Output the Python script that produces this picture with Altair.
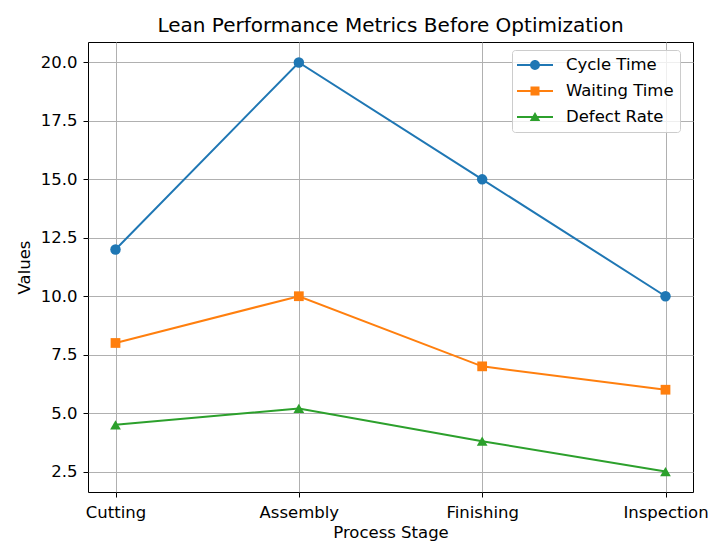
import altair as alt
import pandas as pd

stages = ["Cutting", "Assembly", "Finishing", "Inspection"]
series = ["Cycle Time", "Waiting Time", "Defect Rate"]
cycle_time = [12, 20, 15, 10]
waiting_time = [8, 10, 7, 6]
defect_rate = [4.5, 5.2, 3.8, 2.5]
y_ticks = [2.5, 5.0, 7.5, 10.0, 12.5, 15.0, 17.5, 20.0]

colors = ["#1f77b4", "#ff7f0e", "#2ca02c"]
shapes = ["circle", "square", "triangle-up"]
marker_sizes = [110, 95, 115]
legend_paths = [
    "M-2,-0.11H2V0.11H-2Z M-0.55,0A0.55,0.55 0 1 1 0.55,0A0.55,0.55 0 1 1 -0.55,0Z",
    "M-2,-0.11H2V0.11H-2Z M-0.5,-0.5H0.5V0.5H-0.5Z",
    "M-2,-0.11H2V0.11H-2Z M0,-0.55L0.58,0.45H-0.58Z",
]

rows = []
for name, vals in zip(series, [cycle_time, waiting_time, defect_rate]):
    for s, v in zip(stages, vals):
        rows.append({"stage": s, "value": v, "series": name})
df = pd.DataFrame(rows)

FONT = "DejaVu Sans"
FS = 16.5

x = alt.X(
    "stage:N",
    sort=stages,
    scale=alt.Scale(type="point", padding=0.15),
    axis=alt.Axis(
        title="Process Stage",
        labelAngle=0,
        grid=True,
        gridColor="#b0b0b0",
        gridWidth=1,
        domain=False,
        tickColor="black",
        tickSize=5,
        labelPadding=7,
        titlePadding=4,
    ),
)
y = alt.Y(
    "value:Q",
    scale=alt.Scale(domain=[1.625, 20.875], nice=False, zero=False),
    axis=alt.Axis(
        title="Values",
        values=y_ticks,
        format=".1f",
        grid=True,
        gridColor="#b0b0b0",
        gridWidth=1,
        domain=False,
        tickColor="black",
        tickSize=5,
        labelPadding=6,
        titlePadding=8,
    ),
)

leg = alt.Legend(
    title=None,
    orient="none",
    legendX=424,
    legendY=8,
    labelFontSize=FS,
    labelFont=FONT,
    labelColor="black",
    symbolSize=324,
    symbolStrokeWidth=0,
    symbolOpacity=1,
    symbolOffset=8,
    rowPadding=8,
    labelOffset=22,
    padding=6,
    fillColor="rgba(255,255,255,0.8)",
    strokeColor="#cccccc",
    cornerRadius=3,
    offset=0,
)

layers = []
for name, col in zip(series, colors):
    layers.append(
        alt.Chart(df)
        .transform_filter(alt.datum.series == name)
        .mark_line(strokeWidth=2, color=col)
        .encode(x=x, y=y)
    )
for name, col, shp, sz in zip(series, colors, shapes, marker_sizes):
    layers.append(
        alt.Chart(df)
        .transform_filter(alt.datum.series == name)
        .mark_point(filled=True, shape=shp, size=sz, opacity=1, color=col)
        .encode(x=x, y=y)
    )

legend_layer = (
    alt.Chart(df)
    .mark_point(filled=True, opacity=0)
    .encode(
        x=x,
        y=y,
        color=alt.Color(
            "series:N", scale=alt.Scale(domain=series, range=colors), legend=leg
        ),
        shape=alt.Shape(
            "series:N", scale=alt.Scale(domain=series, range=legend_paths), legend=leg
        ),
    )
)

chart = (
    alt.layer(*layers, legend_layer)
    .properties(
        width=605,
        height=450,
        title=alt.Title(
            "Lean Performance Metrics Before Optimization",
            fontSize=20,
            font=FONT,
            fontWeight="normal",
            color="black",
            offset=6,
        ),
        padding={"left": 80, "top": 34, "right": 20, "bottom": 50},
        autosize=alt.AutoSizeParams(type="none"),
    )
    .configure_view(stroke="black", strokeWidth=1)
    .configure_axis(
        labelFont=FONT,
        titleFont=FONT,
        labelFontSize=FS,
        titleFontSize=FS,
        labelColor="black",
        titleColor="black",
        titleFontWeight="normal",
    )
)

chart.save("out.html", embed_options={"renderer": "svg", "actions": False})
